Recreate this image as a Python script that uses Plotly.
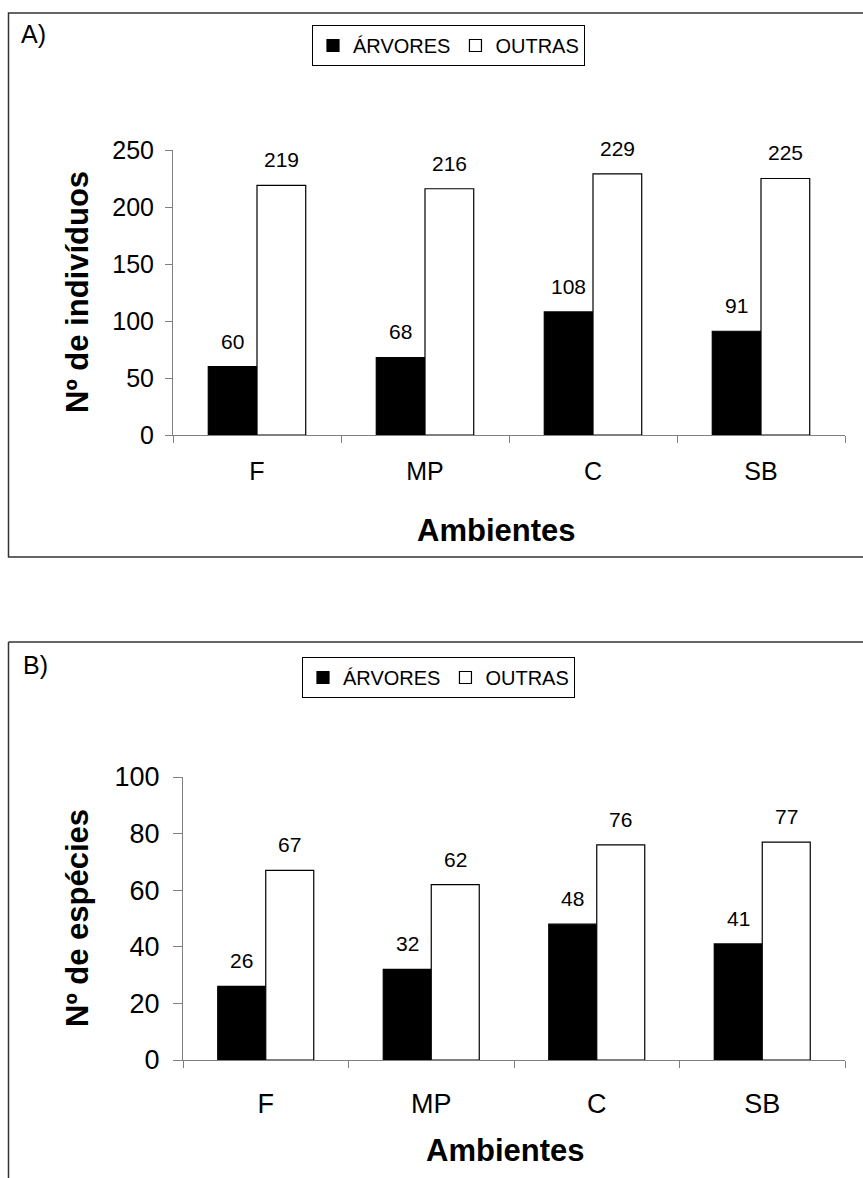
import plotly.graph_objects as go

W, H = 863, 1178

categories = ["F", "MP", "C", "SB"]
series_names = ["ÁRVORES", "OUTRAS"]
individuos_arvores = [60, 68, 108, 91]
individuos_outras = [219, 216, 229, 225]
especies_arvores = [26, 32, 48, 41]
especies_outras = [67, 62, 76, 77]
ticks_a = [0, 50, 100, 150, 200, 250]
ticks_b = [0, 20, 40, 60, 80, 100]

FONT = "Liberation Sans, Arial, sans-serif"

def px(x):
    return x / W

def py(y):
    return 1 - y / H

fig = go.Figure()

fill = ["black", "white"]
for vals_list, xa, ya, leg in [
    ([individuos_arvores, individuos_outras], "x", "y", "legend"),
    ([especies_arvores, especies_outras], "x2", "y2", "legend2"),
]:
    for name, vals, col in zip(series_names, vals_list, fill):
        fig.add_trace(go.Bar(
            x=categories, y=vals, name=name, xaxis=xa, yaxis=ya,
            marker=dict(color=col, line=dict(color="black", width=1.2)),
            legend=leg, showlegend=True, hoverinfo="skip",
        ))

BARGAP = 0.42
half = (1 - BARGAP) / 4  # center offset of each bar within group

annotations = []
for vals_list, xr, yr, fs in [
    ([individuos_arvores, individuos_outras], "x", "y", 21),
    ([especies_arvores, especies_outras], "x2", "y2", 21),
]:
    for k, vals in enumerate(vals_list):
        off = -half if k == 0 else half
        for i, v in enumerate(vals):
            annotations.append(dict(
                x=i + off, y=v, xref=xr, yref=yr, text=str(v), showarrow=False,
                yanchor="bottom", yshift=12, font=dict(size=fs, color="black", family=FONT),
            ))

# Panel labels and axis titles
annotations += [
    dict(x=px(19), y=py(34), xref="paper", yref="paper", text="A)", showarrow=False,
         xanchor="left", yanchor="middle", font=dict(size=25, family=FONT, color="black")),
    dict(x=px(21), y=py(665), xref="paper", yref="paper", text="B)", showarrow=False,
         xanchor="left", yanchor="middle", font=dict(size=25, family=FONT, color="black")),
    dict(x=px(77), y=py(292), xref="paper", yref="paper", text="<b>Nº de indivíduos</b>",
         showarrow=False, textangle=-90, xanchor="center", yanchor="middle",
         font=dict(size=31, family=FONT, color="black")),
    dict(x=px(77), y=py(918), xref="paper", yref="paper", text="<b>Nº de espécies</b>",
         showarrow=False, textangle=-90, xanchor="center", yanchor="middle",
         font=dict(size=31, family=FONT, color="black")),
    dict(x=px(496), y=py(530), xref="paper", yref="paper", text="<b>Ambientes</b>",
         showarrow=False, xanchor="center", yanchor="middle",
         font=dict(size=31, family=FONT, color="black")),
    dict(x=px(505), y=py(1150), xref="paper", yref="paper", text="<b>Ambientes</b>",
         showarrow=False, xanchor="center", yanchor="middle",
         font=dict(size=31, family=FONT, color="black")),
]

shapes = [
    dict(type="rect", xref="paper", yref="paper", x0=px(8.5), x1=px(875),
         y0=py(557), y1=py(13), line=dict(color="#333333", width=1.5)),
    dict(type="line", xref="paper", yref="paper", x0=px(8.5), x1=px(875),
         y0=py(642), y1=py(642), line=dict(color="#333333", width=1.5)),
    dict(type="line", xref="paper", yref="paper", x0=px(8.5), x1=px(8.5),
         y0=py(642), y1=py(1200), line=dict(color="#333333", width=1.5)),
]

axis_line = "#808080"

def xaxis(domain, anchor, fs, standoff):
    return dict(domain=domain, anchor=anchor, type="category", range=[-0.5, 3.5],
                showline=True, linecolor=axis_line, linewidth=1, ticks="outside",
                tickson="boundaries", ticklen=7, tickcolor=axis_line, showgrid=False,
                tickfont=dict(size=fs, family=FONT, color="black"),
                ticklabelstandoff=standoff, automargin=False, fixedrange=True)

def yaxis(domain, anchor, rng, tickvals, fs, ticklen, standoff):
    return dict(domain=domain, anchor=anchor, range=rng, tickvals=tickvals,
                showline=True, linecolor=axis_line, linewidth=1, ticks="outside",
                ticklen=ticklen, tickcolor=axis_line, showgrid=False, zeroline=False,
                tickfont=dict(size=fs, family=FONT, color="black"),
                ticklabelstandoff=standoff, automargin=False, fixedrange=True)

fig.update_layout(
    width=W, height=H,
    margin=dict(l=0, r=0, t=0, b=0),
    paper_bgcolor="white", plot_bgcolor="white",
    barmode="group", bargap=BARGAP, bargroupgap=0,
    font=dict(family=FONT, color="black"),
    xaxis=xaxis([px(173), px(845)], "y", 25, 14),
    yaxis=yaxis([py(435), py(150)], "x", [0, 250], ticks_a, 25, 7, 6),
    xaxis2=xaxis([px(183), px(845)], "y2", 27, 20),
    yaxis2=yaxis([py(1060), py(777)], "x2", [0, 100], ticks_b, 27, 9, 8),
    legend=dict(orientation="h", x=px(312), y=py(25), xanchor="left", yanchor="top",
                bordercolor="black", borderwidth=1, bgcolor="white",
                font=dict(size=20, family=FONT, color="black"), itemwidth=30,
                traceorder="normal"),
    legend2=dict(orientation="h", x=px(302), y=py(657), xanchor="left", yanchor="top",
                 bordercolor="black", borderwidth=1, bgcolor="white",
                 font=dict(size=20, family=FONT, color="black"), itemwidth=30,
                 traceorder="normal"),
    annotations=annotations,
    shapes=shapes,
    showlegend=True,
)

fig.write_html("out.html")
